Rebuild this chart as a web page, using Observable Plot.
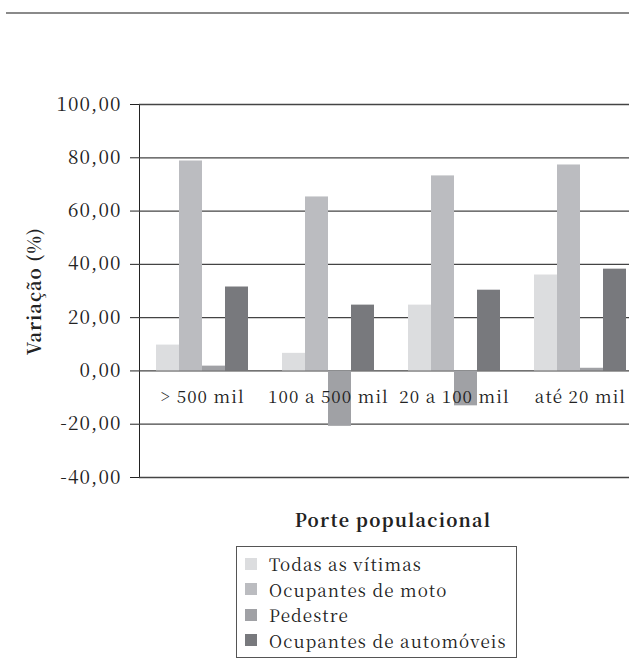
<!DOCTYPE html>
<html>
<head>
<meta charset="utf-8">
<script src="https://cdn.jsdelivr.net/npm/d3@7"></script>
<script src="https://cdn.jsdelivr.net/npm/@observablehq/plot@0.6"></script>
<style>
  html, body { margin: 0; padding: 0; background: #fff; overflow: hidden; width: 629px; height: 668px; }
  #wrap { position: relative; width: 629px; height: 668px; color: #222; }
  #wrap, #wrap div, #wrap span, #wrap svg, #wrap text { font-family: 'Noto Serif CJK SC', 'Liberation Serif', serif !important; }
  #topline { position: absolute; left: 6px; top: 12px; width: 623px; height: 0; border-top: 2px solid #8a8a8a; }
  #chart { position: absolute; left: 0; top: 0; width: 644px; }
  #chart svg { max-width: none !important; }
  #ylabel { position: absolute; left: 33px; top: 291px; transform: translate(-50%, -50%) rotate(-90deg); font-weight: bold; font-size: 18px; letter-spacing: 1px; white-space: nowrap; }
  #xlabel { position: absolute; left: 393px; top: 519px; transform: translate(-50%, -50%); font-weight: bold; font-size: 18px; letter-spacing: 1.2px; white-space: nowrap; }
  #legend { position: absolute; left: 236px; top: 546px; width: 281px; height: 112px; border: 1px solid #555; box-sizing: border-box; padding-top: 4px; }
  .row { display: flex; align-items: center; height: 25.5px; font-size: 17px; letter-spacing: 1.1px; white-space: nowrap; line-height: 1; }
  .sw { width: 12px; height: 12px; margin-left: 8px; margin-right: 12px; flex: none; }
</style>
</head>
<body>
<div id="wrap">
  <div id="chart"></div>
  <div id="topline"></div>
  <div id="ylabel">Variação (%)</div>
  <div id="xlabel">Porte populacional</div>
  <div id="legend"></div>
</div>
<script>
const porte = ["> 500 mil", "100 a 500 mil", "20 a 100 mil", "até 20 mil"];
const series = ["Todas as vítimas", "Ocupantes de moto", "Pedestre", "Ocupantes de automóveis"];
const todas = [9.7, 6.6, 24.7, 36.0];
const moto = [78.8, 65.3, 73.2, 77.3];
const pedestre = [1.8, -20.8, -13.1, 1.0];
const automoveis = [31.5, 24.7, 30.3, 38.2];
const yTicks = [-40, -20, 0, 20, 40, 60, 80, 100];
const colors = ["#dcdddf", "#bbbcc0", "#a0a1a5", "#78797d"];

const valuesBySeries = [todas, moto, pedestre, automoveis];
const rows = [];
porte.forEach((p, i) => {
  series.forEach((s, j) => rows.push({porte: p, serie: s, valor: valuesBySeries[j][i]}));
});

const fmt = d => d.toFixed(2).replace(".", ",");

const chart = Plot.plot({
  width: 644,
  height: 500,
  marginLeft: 138,
  marginRight: 0,
  marginTop: 104,
  marginBottom: 23,
  style: {fontFamily: "'Noto Serif CJK SC', 'Liberation Serif', serif", fontSize: "19px", letterSpacing: "1.1px", color: "#222", background: "transparent", maxWidth: "none"},
  fx: {domain: porte, padding: 0, axis: null},
  x: {domain: series, paddingInner: 0, paddingOuter: 0.71, axis: null},
  y: {domain: [-40, 100], ticks: yTicks, tickFormat: fmt, tickSize: 9, tickPadding: 9, line: true, label: null, grid: false},
  color: {domain: series, range: colors},
  marks: [
    Plot.gridY(yTicks, {stroke: "#444", strokeOpacity: 1, strokeWidth: 1.3}),
    Plot.barY(rows, {fx: "porte", x: "serie", y: "valor", fill: "serie"}),
    Plot.text(porte, {fx: d => d, y: 0, dy: 27, text: d => d, fill: "#222", fontSize: 17})
  ]
});
document.getElementById("chart").appendChild(chart);

const legend = document.getElementById("legend");
series.forEach((s, j) => {
  const row = document.createElement("div");
  row.className = "row";
  const sw = document.createElement("span");
  sw.className = "sw";
  sw.style.background = colors[j];
  const t = document.createElement("span");
  t.textContent = s;
  row.appendChild(sw);
  row.appendChild(t);
  legend.appendChild(row);
});
</script>
</body>
</html>
